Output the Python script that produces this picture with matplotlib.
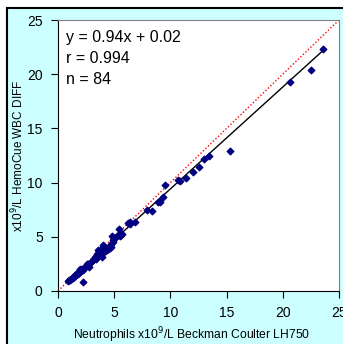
import numpy as np
import matplotlib.pyplot as plt
from matplotlib.patches import Rectangle

plt.rcParams['font.family'] = ['Liberation Sans', 'DejaVu Sans']

# Beckman Coulter LH750 neutrophils (x) vs HemoCue WBC DIFF (y), x10^9/L
lh750 = [23.58, 22.5, 20.6, 15.3, 13.45, 13.0, 12.5, 12.0, 11.4, 10.85,
         10.65, 9.54, 9.3, 9.06, 8.9, 8.4, 7.9, 6.84, 6.45, 6.25,
         5.45, 5.66, 5.5, 5.15, 4.8, 4.92, 4.62, 4.32, 4.03, 3.97,
         3.73, 3.58, 3.88, 3.44, 3.2, 3.08, 2.6, 2.72, 2.43, 2.25,
         1.95, 1.84, 2.19, 1.6, 1.36, 1.0, 0.89,
         1.1, 1.2, 1.3, 1.45, 1.5, 1.55, 1.7, 1.75, 1.9, 2.0,
         2.05, 2.1, 2.3, 2.5, 2.65, 2.8, 2.9, 3.3, 3.35, 3.5,
         3.6, 3.65, 3.75, 3.9, 4.1, 4.2, 4.3, 4.45, 4.5, 4.6,
         4.7, 4.75, 4.85, 5.0, 5.3, 5.6, 6.4]
hemocue = [22.29, 20.4, 19.3, 12.9, 12.44, 12.2, 11.45, 10.96, 10.47, 10.13,
           10.2, 9.82, 8.68, 8.25, 8.25, 7.39, 7.5, 6.4, 6.4, 6.28,
           5.72, 5.3, 5.08, 5.0, 5.1, 4.68, 4.06, 3.82, 4.06, 4.22,
           3.6, 3.82, 3.14, 3.45, 2.99, 2.83, 2.52, 2.22, 2.22, 1.97,
           2.06, 1.75, 0.83, 1.54, 1.29, 0.98, 0.89,
           1.0, 1.1, 1.2, 1.35, 1.45, 1.4, 1.6, 1.55, 1.8, 1.75,
           1.9, 2.0, 2.15, 2.35, 2.45, 2.5, 2.7, 3.1, 2.95, 3.3,
           3.5, 3.3, 3.55, 3.45, 3.7, 3.65, 3.9, 3.85, 4.0, 3.95,
           4.3, 4.1, 4.5, 4.9, 5.2, 5.15, 6.2]

slope, intercept = 0.94, 0.02
stats = ["y = 0.94x + 0.02", "r = 0.994", "n = 84"]
ticks = [0, 5, 10, 15, 20, 25]

fig = plt.figure(figsize=(3.43, 3.44), dpi=100)
fig.patch.set_facecolor('white')
fig.add_artist(Rectangle((7 / 343, -0.1), 1.2, 1 - 8 / 344 + 0.1,
                         transform=fig.transFigure, facecolor='#CCFFFF',
                         edgecolor='black', linewidth=1.5, zorder=-10))

ax = fig.add_axes([58 / 343, 1 - 291 / 344, 281 / 343, 271 / 344])
ax.set_facecolor('white')

ax.plot([0, 25], [0, 25], color='red', linestyle=(0, (1, 1.5)), linewidth=1.0)
xf = np.array([0.9, 23.6])
ax.plot(xf, slope * xf + intercept, color='black', linewidth=1.0)
ax.scatter(lh750, hemocue, marker='D', s=11, color='#000080', zorder=3)

ax.set_xlim(0, 25)
ax.set_ylim(0, 25)
ax.set_xticks(ticks)
ax.set_yticks(ticks)
ax.tick_params(direction='out', length=5, labelsize=10, pad=6, color='black')
for side in ['top', 'right']:
    ax.spines[side].set_color('#808080')
for side in ['left', 'bottom']:
    ax.spines[side].set_color('black')

ax.set_xlabel("Neutrophils x10$^9$/L Beckman Coulter LH750", fontsize=8.7, va='center')
ax.xaxis.set_label_coords(0.475, -0.163)
ax.set_ylabel("x10$^9$/L HemoCue WBC DIFF", fontsize=8.5, va='center')
ax.yaxis.set_label_coords(-0.142, 0.5)

for i, line in enumerate(stats):
    ax.text(0.028, 0.935 - i * 0.078, line, transform=ax.transAxes,
            fontsize=11.5, va='center', ha='left')

fig.savefig('out.png', dpi=100)
